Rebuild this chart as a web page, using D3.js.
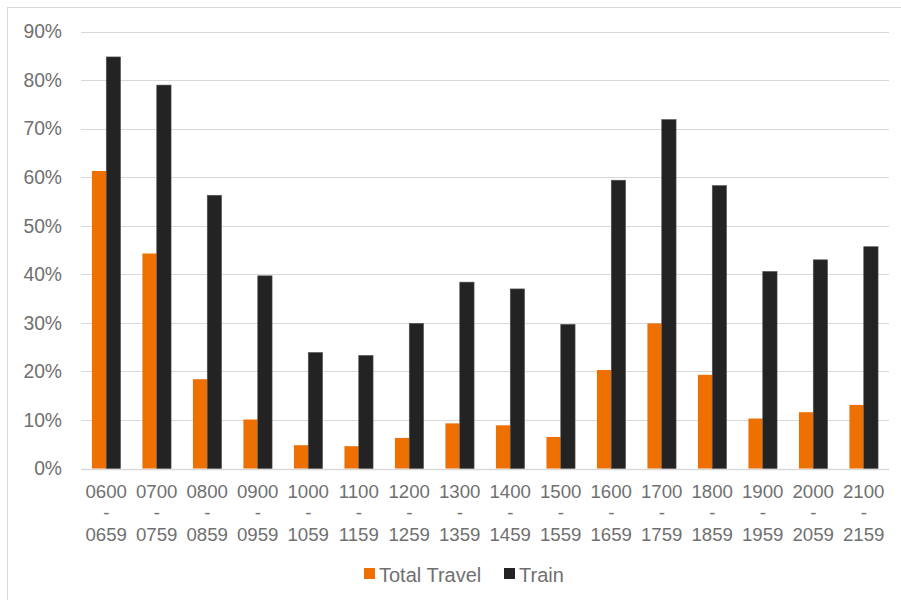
<!DOCTYPE html>
<html>
<head>
<meta charset="utf-8">
<script src="https://cdn.jsdelivr.net/npm/d3@7"></script>
<style>
  body { margin: 0; background: #fff; }
  svg text { font-family: "Liberation Sans", Arial, sans-serif; fill: #707070; }
</style>
</head>
<body>
<div id="chart"></div>
<script>
// Data
const startTimes = ["0600","0700","0800","0900","1000","1100","1200","1300","1400","1500","1600","1700","1800","1900","2000","2100"];
const endTimes   = ["0659","0759","0859","0959","1059","1159","1259","1359","1459","1559","1659","1759","1859","1959","2059","2159"];
const totalTravel = [61.3, 44.3, 18.4, 10.1, 4.8, 4.6, 6.3, 9.3, 8.9, 6.5, 20.3, 29.9, 19.3, 10.3, 11.6, 13.1];
const train       = [84.8, 79.0, 56.3, 39.7, 23.9, 23.3, 29.9, 38.4, 37.0, 29.7, 59.4, 71.9, 58.3, 40.6, 43.0, 45.7];
const yTicks = [0, 10, 20, 30, 40, 50, 60, 70, 80, 90];
const seriesNames = ["Total Travel", "Train"];
const colors = ["#ED7000", "#232323"];

const W = 901, H = 600;
const plot = { left: 81, right: 889, top: 31.7, bottom: 468.5 };

const svg = d3.select("#chart").append("svg")
    .attr("width", W)
    .attr("height", H);

// outer chart border (only top/left visible in frame)
svg.append("rect")
    .attr("x", 7.5).attr("y", 7.5)
    .attr("width", W + 10).attr("height", H + 10)
    .attr("fill", "#fff")
    .attr("stroke", "#d9d9d9")
    .attr("stroke-width", 1);

// scales
const x0 = d3.scaleBand()
    .domain(d3.range(startTimes.length))
    .range([plot.left, plot.right])
    .paddingInner(0.433)
    .paddingOuter(0.2165);

const x1 = d3.scaleBand()
    .domain([0, 1])
    .range([0, x0.bandwidth()]);

const y = d3.scaleLinear()
    .domain([0, 90])
    .range([plot.bottom, plot.top]);

// grid
svg.append("g").selectAll("line")
    .data(yTicks)
    .join("line")
    .attr("x1", plot.left)
    .attr("x2", plot.right)
    .attr("y1", d => Math.round(y(d)) + 0.5)
    .attr("y2", d => Math.round(y(d)) + 0.5)
    .attr("stroke", "#d9d9d9")
    .attr("stroke-width", d => d === 0 ? 1.5 : 1);

// y axis labels
const yAxis = svg.append("g")
    .attr("transform", `translate(${plot.left},0)`)
    .call(d3.axisLeft(y).tickValues(yTicks).tickFormat(d => d + "%").tickSize(0).tickPadding(19));
yAxis.select(".domain").remove();
yAxis.selectAll("text")
    .attr("font-size", "19.3px")
    .attr("fill", "#707070")
    .style("font-family", '"Liberation Sans", Arial, sans-serif');

// bars
const seriesData = [totalTravel, train];
seriesData.forEach((vals, s) => {
    svg.append("g").selectAll("rect")
        .data(vals)
        .join("rect")
        .attr("x", (d, i) => x0(i) + x1(s))
        .attr("width", x1.bandwidth())
        .attr("y", d => y(d))
        .attr("height", d => y(0) - y(d))
        .attr("fill", colors[s])
        .attr("stroke", s === 1 ? "#555" : "none")
        .attr("stroke-width", 0.6);
});

// x labels
const xl = svg.append("g").selectAll("text")
    .data(startTimes)
    .join("text")
    .attr("x", (d, i) => x0(i) + x0.bandwidth() / 2)
    .attr("y", 497.5)
    .attr("text-anchor", "middle")
    .attr("font-size", "18.67px");
xl.append("tspan").attr("x", (d, i) => x0(i) + x0.bandwidth() / 2).text(d => d);
xl.append("tspan").attr("x", (d, i) => x0(i) + x0.bandwidth() / 2).attr("dy", 21.5).text("-");
xl.append("tspan").attr("x", (d, i) => x0(i) + x0.bandwidth() / 2).attr("dy", 21.5).text((d, i) => endTimes[i]);

// legend
const legendX = [364, 504];
const legend = svg.append("g").selectAll("g")
    .data(seriesNames)
    .join("g")
    .attr("transform", (d, i) => `translate(${legendX[i]},568)`);
legend.append("rect")
    .attr("width", 11)
    .attr("height", 11)
    .attr("fill", (d, i) => colors[i]);
legend.append("text")
    .attr("x", 15)
    .attr("y", 13.5)
    .attr("font-size", "20px")
    .text(d => d);
</script>
</body>
</html>
